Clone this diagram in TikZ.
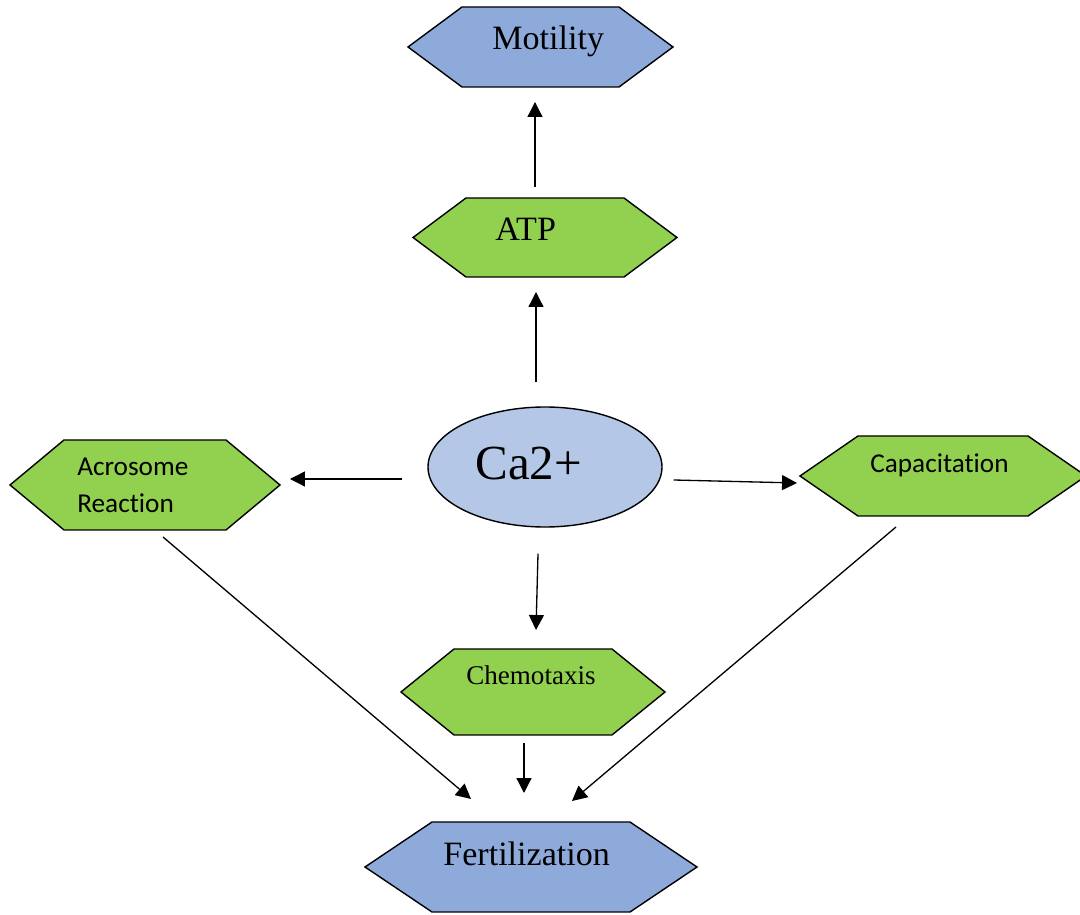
\documentclass[tikz,border=0pt]{standalone}
\usepackage{fontspec}
\setmainfont{Liberation Serif}
\newfontfamily\calib[Ligatures={NoCommon}]{Carlito}
\usetikzlibrary{arrows.meta,calc,shapes.geometric}
\definecolor{hexgreen}{HTML}{92D050}
\definecolor{hexblue}{HTML}{8EAADB}
\definecolor{ellblue}{HTML}{B4C7E7}
\newcommand\hexa[3]{\draw[#3] (#1.west) -- ($(#1.north west)+(#2,0)$) -- ($(#1.north east)+(-#2,0)$) -- (#1.east) -- ($(#1.south east)+(-#2,0)$) -- ($(#1.south west)+(#2,0)$) -- cycle;}
\begin{document}
\begin{tikzpicture}[x=0.02cm,y=-0.02cm,
 box/.style={rectangle,draw=none,inner sep=0,outer sep=0},
 hexline/.style={draw=black,line width=0.8pt,line join=miter},
 greenhex/.style={hexline,fill=hexgreen},
 bluehex/.style={hexline,fill=hexblue},
 lbl/.style={inner sep=0,anchor=base west},
 serifbig/.style={font=\fontsize{19.4pt}{23pt}\selectfont},
 sanslbl/.style={font=\calib\fontsize{15.5pt}{21pt}\selectfont},
 arr/.style={-{Triangle[length=8.5pt,width=8.5pt]},line width=0.75pt}]
\useasboundingbox (0,0) rectangle (1080,915);
% hexagon boxes
\node[box,minimum width=265*0.02cm,minimum height=80*0.02cm] (mot) at (540.5,47) {};
\node[box,minimum width=264*0.02cm,minimum height=79*0.02cm] (atp) at (545,237.5) {};
\node[box,minimum width=270*0.02cm,minimum height=90*0.02cm] (acr) at (145,485) {};
\node[box,minimum width=286*0.02cm,minimum height=80*0.02cm] (cap) at (943,476) {};
\node[box,minimum width=264*0.02cm,minimum height=86*0.02cm] (che) at (533,692) {};
\node[box,minimum width=332*0.02cm,minimum height=90*0.02cm] (fer) at (531,867) {};
\hexa{mot}{54}{bluehex}
\hexa{atp}{53}{greenhex}
\hexa{acr}{54}{greenhex}
\hexa{cap}{58}{greenhex}
\hexa{che}{53}{greenhex}
\hexa{fer}{67}{bluehex}
\node[ellipse,draw=black,line width=0.8pt,fill=ellblue,minimum width=234*0.02cm,minimum height=120*0.02cm,inner sep=0] (ca) at (545,467) {};
% labels
\node[lbl,serifbig] (motT) at (492,50) {Motility};
\node[lbl,serifbig] (atpT) at (495,241) {ATP};
\node[lbl,font=\fontsize{27.9pt}{32pt}\selectfont] (caT) at (475,480) {Ca2+};
\node[lbl,font=\fontsize{15.4pt}{18pt}\selectfont] (cheT) at (466,685) {Chemotaxis};
\node[lbl,serifbig] (ferT) at (443,866) {Fertilization};
\node[lbl,sanslbl] (acrT1) at (77,476) {Acrosome};
\node[lbl,sanslbl] (acrT2) at (77,513) {Reaction};
\node[lbl,sanslbl] (capT) at (870,473) {Capacitation};
% connectors
\draw[arr] ($(atp.north)+(-10,-11)$) -- ($(mot.south)+(-5.5,15)$);
\draw[arr] ($(ca.north)+(-9,-24)$) -- ($(atp.south)+(-9,15)$);
\draw[arr] ($(ca.west)+(-25,12)$) -- ($(acr.east)+(10,-6)$);
\draw[arr] ($(ca.east)+(11,13)$) -- ($(cap.west)+(-3,7)$);
\draw[arr] ($(ca.south)+(-7,26)$) -- ($(che.north)+(3,-19)$);
\draw[arr] ($(che.south)+(-9,8)$) -- ($(fer.north)+(-7,-29)$);
\draw[arr] ($(acr.south)+(18,7)$) -- ($(fer.north)+(-60,-23)$);
\draw[arr] ($(cap.south)+(-47,11)$) -- ($(fer.north)+(41,-21)$);
\end{tikzpicture}
\end{document}
